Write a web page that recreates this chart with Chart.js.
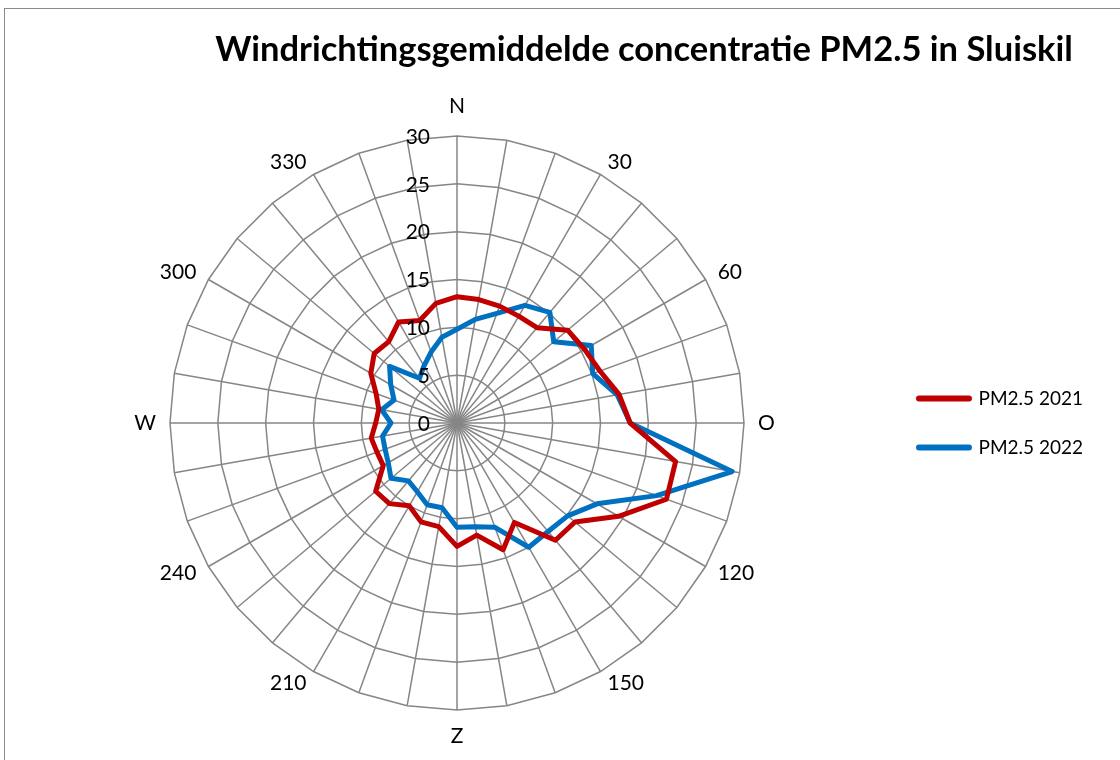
<!DOCTYPE html>
<html>
<head>
<meta charset="utf-8">
<script src="https://cdn.jsdelivr.net/npm/chart.js@4.4.0/dist/chart.umd.min.js"></script>
<style>
  html, body { margin: 0; padding: 0; background: #fff; }
  #wrap { position: relative; width: 1120px; height: 760px; overflow: hidden; }
  #frame { position: absolute; left: 4px; top: 8px; width: 1300px; height: 900px;
           border-top: 1px solid #8a8a8a; border-left: 1px solid #8a8a8a; }
  #myChart { position: absolute; left: 0; top: 0; }
</style>
</head>
<body>
<div id="wrap">
  <div id="frame"></div>
  <canvas id="myChart" width="1120" height="760"></canvas>
</div>
<script>
"use strict";

const chartTitle = 'Windrichtingsgemiddelde concentratie PM2.5 in Sluiskil';

// wind directions, 10 degree steps starting at north
const directions = ['N', '', '', '30', '', '', '60', '', '', 'O', '', '',
                    '120', '', '', '150', '', '', 'Z', '', '', '210', '', '',
                    '240', '', '', 'W', '', '', '300', '', '', '330', '', ''];

const pm2021 = [13.2, 13.1, 13.0, 12.9, 13.0, 15.1, 15.4, 15.9, 17.2, 18.1, 23.2, 23.3,
                19.5, 16.1, 16.0, 12.0, 14.1, 11.9, 12.9, 11.0, 11.0, 10.0, 11.0, 11.1,
                8.9, 8.9, 9.1, 8.5, 8.3, 9.0, 10.4, 11.3, 11.1, 12.2, 11.4, 12.7];

const pm2022 = [9.8, 11.0, 12.2, 14.2, 15.1, 13.2, 16.2, 15.1, 17.0, 18.1, 29.2, 22.2,
                16.9, 15.1, 14.8, 15.0, 11.6, 11.0, 10.9, 9.0, 9.1, 8.3, 7.9, 9.0,
                8.3, 8.0, 7.9, 6.9, 8.0, 7.0, 8.0, 9.2, 6.1, 6.9, 7.9, 9.1];

const tickLabels = ['0', '5', '10', '15', '20', '25', '30'];

const labelFont = '21px Lato';

// title, tick numbers left of the north spoke and direction names outside the web
const axisText = {
  id: 'axisText',
  afterDatasetsDraw(chart) {
    const r = chart.scales.r;
    const ctx = chart.ctx;
    ctx.save();
    ctx.fillStyle = '#000';
    ctx.textBaseline = 'middle';

    ctx.font = 'bold 34.5px Lato';
    ctx.textAlign = 'center';
    ctx.fillText(chartTitle, 644, 50);

    ctx.font = labelFont;
    ctx.textAlign = 'right';
    r.ticks.forEach((t, i) => {
      const d = r.getDistanceFromCenterForValue(t.value);
      ctx.fillText(tickLabels[i], r.xCenter - 27, r.yCenter - d + 1);
    });

    directions.forEach((lab, i) => {
      if (!lab) return;
      const a = r.getIndexAngle(i);
      const sin = Math.sin(a);
      const cos = Math.cos(a);
      let extra = 0;
      if (Math.abs(sin) < 0.01) {
        ctx.textAlign = 'center';
        extra = cos > 0 ? 16 : 12;
      } else {
        ctx.textAlign = sin > 0 ? 'left' : 'right';
      }
      const p = r.getPointPosition(i, r.drawingArea + 14 + extra);
      ctx.fillText(lab, p.x, p.y);
    });
    ctx.restore();
  }
};

function drawChart() {
  const ctx = document.querySelector('#myChart').getContext('2d');
  const legendLabels = Chart.defaults.plugins.legend.labels.generateLabels;

  const data = {
    labels: directions,
    datasets: [
      {
        label: 'PM2.5 2021',
        data: pm2021,
        borderColor: '#C00000',
        borderWidth: 5,
        borderJoinStyle: 'round',
        fill: false,
        pointRadius: 0,
        pointHoverRadius: 0,
      },
      {
        label: 'PM2.5 2022',
        data: pm2022,
        borderColor: '#0070C0',
        borderWidth: 5,
        borderJoinStyle: 'round',
        fill: false,
        pointRadius: 0,
        pointHoverRadius: 0,
      },
    ]
  };

  const config = {
    type: 'radar',
    data: data,
    plugins: [axisText],
    options: {
      responsive: false,
      animation: false,
      layout: {
        padding: { left: 25.5, right: 27, top: 136, bottom: 50 }
      },
      plugins: {
        title: { display: false },
        legend: {
          position: 'right',
          fullSize: false,
          labels: {
            usePointStyle: true,
            pointStyle: 'line',
            pointStyleWidth: 50,
            padding: 30,
            color: '#000',
            font: { family: 'Lato', size: 19 },
            generateLabels(chart) {
              const items = legendLabels(chart);
              items.forEach(item => {
                item.lineWidth = 6;
                item.lineCap = 'round';
              });
              return items;
            }
          }
        },
        tooltip: { enabled: false }
      },
      scales: {
        r: {
          min: 0,
          max: 30,
          ticks: { stepSize: 5, display: false },
          grid: { color: '#868686', lineWidth: 1.5 },
          angleLines: { color: '#868686', lineWidth: 1.5 },
          pointLabels: { display: false }
        }
      }
    }
  };

  new Chart(ctx, config);
}

Promise.all([
  document.fonts.load('21px Lato'),
  document.fonts.load('bold 34.5px Lato')
]).then(drawChart, drawChart);
</script>
</body>
</html>
